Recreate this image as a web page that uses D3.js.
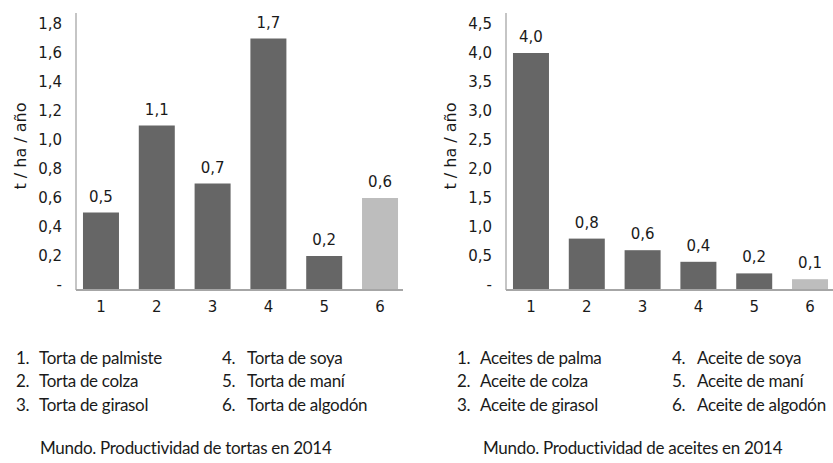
<!DOCTYPE html>
<html>
<head>
<meta charset="utf-8">
<script src="https://cdn.jsdelivr.net/npm/d3@7"></script>
<style>
  html, body { margin: 0; padding: 0; background: #ffffff; }
  svg { display: block; }
</style>
</head>
<body>
<svg id="chart" width="833" height="463"></svg>
<script>
// Category numbers shared by both panels
const categories = ["1", "2", "3", "4", "5", "6"];

// Productividad mundial de tortas (t / ha / año), 2014
const tortasValues = [0.5, 1.1, 0.7, 1.7, 0.2, 0.6];
const tortasTicks = [0, 0.2, 0.4, 0.6, 0.8, 1.0, 1.2, 1.4, 1.6, 1.8];
const tortasNames = ["Torta de palmiste", "Torta de colza", "Torta de girasol",
                     "Torta de soya", "Torta de maní", "Torta de algodón"];
const tortasTitle = "Mundo. Productividad de tortas en 2014";

// Productividad mundial de aceites (t / ha / año), 2014
const aceitesValues = [4.0, 0.8, 0.6, 0.4, 0.2, 0.1];
const aceitesTicks = [0, 0.5, 1.0, 1.5, 2.0, 2.5, 3.0, 3.5, 4.0, 4.5];
const aceitesNames = ["Aceites de palma", "Aceite de colza", "Aceite de girasol",
                      "Aceite de soya", "Aceite de maní", "Aceite de algodón"];
const aceitesTitle = "Mundo. Productividad de aceites en 2014";

const yAxisLabel = "t / ha / año";
const highlighted = "6";

const svg = d3.select("#chart");
const numFont = "'DejaVu Sans', Verdana, sans-serif";
const textFont = "Lato, 'Noto Sans', sans-serif";
const fmt = v => d3.format(".1f")(v).replace(".", ",");

function drawPanel(opts) {
  const { x0, values, ticks, names, title, captionX, columns } = opts;
  const g = svg.append("g");

  const axisBottom = 290;
  const x = d3.scaleBand()
    .domain(categories)
    .range([x0, x0 + 329])
    .paddingInner(0.355)
    .paddingOuter(0.125);
  const y = d3.scaleLinear()
    .domain([0, ticks[ticks.length - 1]])
    .range([285, 24]);

  // bars
  g.selectAll("rect.bar")
    .data(values)
    .join("rect")
    .attr("class", "bar")
    .attr("x", (d, i) => x(categories[i]))
    .attr("width", x.bandwidth())
    .attr("y", d => y(d))
    .attr("height", d => axisBottom - y(d))
    .attr("fill", (d, i) => categories[i] === highlighted ? "#bdbdbd" : "#666666");

  // value labels
  g.selectAll("text.val")
    .data(values)
    .join("text")
    .attr("class", "val")
    .attr("x", (d, i) => x(categories[i]) + x.bandwidth() / 2)
    .attr("y", d => y(d) - 16)
    .attr("text-anchor", "middle")
    .attr("dominant-baseline", "central")
    .attr("font-family", numFont)
    .attr("font-size", 15)
    .attr("fill", "#1a1a1a")
    .text(d => fmt(d));

  // y axis line and tick labels
  g.append("line")
    .attr("x1", x0).attr("x2", x0)
    .attr("y1", 13).attr("y2", axisBottom)
    .attr("stroke", "#a6a6a6").attr("stroke-width", 1.3);
  g.selectAll("text.ytick")
    .data(ticks)
    .join("text")
    .attr("class", "ytick")
    .attr("x", x0 - 14)
    .attr("y", d => y(d))
    .attr("text-anchor", "end")
    .attr("dominant-baseline", "central")
    .attr("font-family", numFont)
    .attr("font-size", 15)
    .attr("fill", "#1a1a1a")
    .text(d => d === 0 ? "-" : fmt(d));

  // x axis line and category labels
  g.append("line")
    .attr("x1", x0).attr("x2", x0 + 327)
    .attr("y1", axisBottom).attr("y2", axisBottom)
    .attr("stroke", "#a6a6a6").attr("stroke-width", 2);
  g.selectAll("text.xtick")
    .data(categories)
    .join("text")
    .attr("class", "xtick")
    .attr("x", d => x(d) + x.bandwidth() / 2)
    .attr("y", 307)
    .attr("text-anchor", "middle")
    .attr("dominant-baseline", "central")
    .attr("font-family", numFont)
    .attr("font-size", 15)
    .attr("fill", "#1a1a1a")
    .text(d => d);

  // y axis title
  g.append("text")
    .attr("transform", `translate(${x0 - 56},146) rotate(-90)`)
    .attr("text-anchor", "middle")
    .attr("dominant-baseline", "central")
    .attr("font-family", numFont)
    .attr("font-size", 16)
    .attr("fill", "#1a1a1a")
    .text(yAxisLabel);

  // numbered legend in two columns
  const rowY = [357, 380.5, 404];
  const legend = g.selectAll("g.item")
    .data(names)
    .join("g")
    .attr("class", "item")
    .attr("transform", (d, i) => `translate(0,${rowY[i % 3]})`);
  legend.append("text")
    .attr("x", (d, i) => columns[i < 3 ? 0 : 1].num)
    .attr("font-family", textFont)
    .attr("font-size", 17)
    .attr("letter-spacing", -0.3)
    .attr("dominant-baseline", "central")
    .attr("fill", "#1a1a1a")
    .text((d, i) => categories[i] + ".");
  legend.append("text")
    .attr("x", (d, i) => columns[i < 3 ? 0 : 1].text)
    .attr("font-family", textFont)
    .attr("font-size", 17)
    .attr("letter-spacing", -0.3)
    .attr("dominant-baseline", "central")
    .attr("fill", "#1a1a1a")
    .text(d => d);

  // panel caption
  g.append("text")
    .attr("x", captionX)
    .attr("y", 447)
    .attr("font-family", textFont)
    .attr("font-size", 17)
    .attr("letter-spacing", -0.3)
    .attr("dominant-baseline", "central")
    .attr("fill", "#1a1a1a")
    .text(title);
}

drawPanel({ x0: 76, values: tortasValues, ticks: tortasTicks, names: tortasNames,
            title: tortasTitle, captionX: 40,
            columns: [{ num: 16, text: 39 }, { num: 222, text: 247 }] });
drawPanel({ x0: 506, values: aceitesValues, ticks: aceitesTicks, names: aceitesNames,
            title: aceitesTitle, captionX: 483,
            columns: [{ num: 457, text: 480 }, { num: 672, text: 697 }] });
</script>
</body>
</html>
